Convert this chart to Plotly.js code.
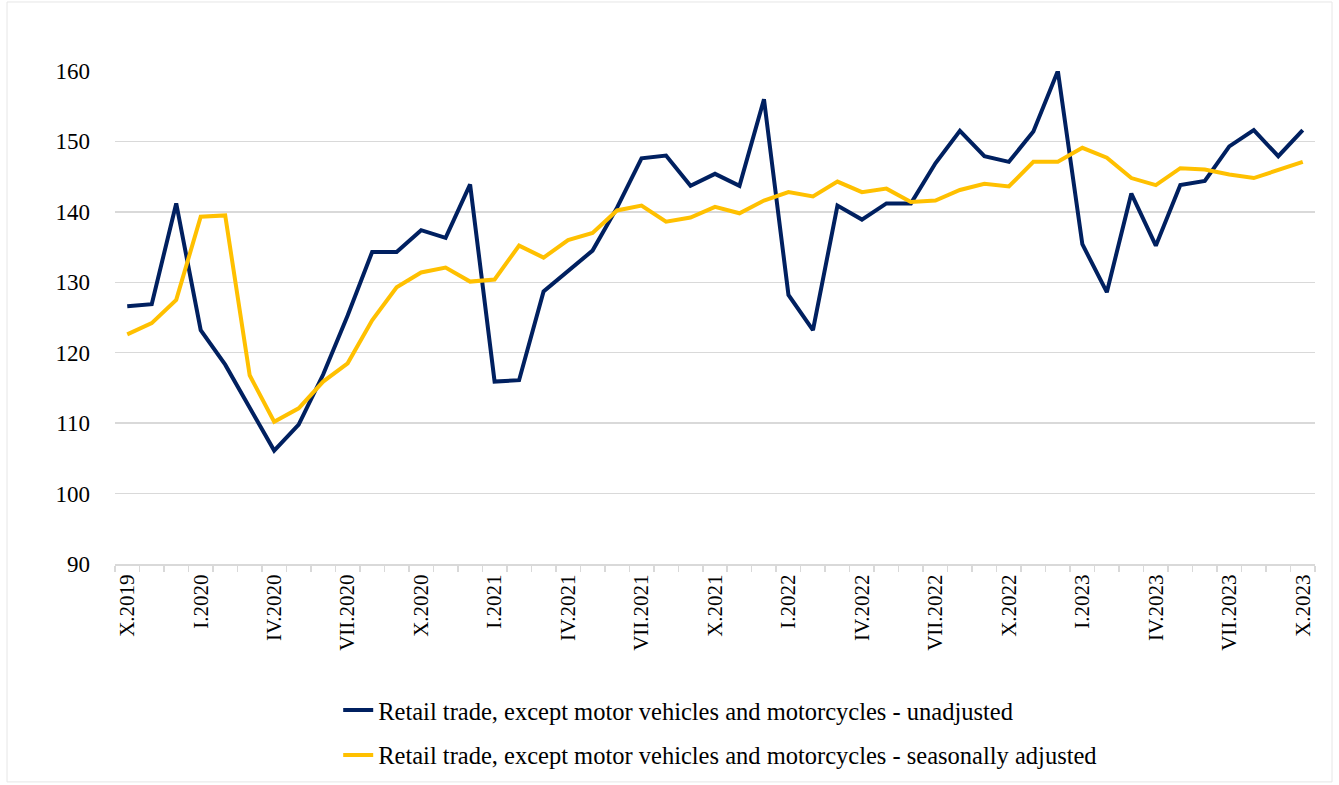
<!DOCTYPE html>
<html>
<head>
<meta charset="utf-8">
<script src="https://cdn.plot.ly/plotly-3.0.1.min.js"></script>
<style>html,body{margin:0;padding:0;background:#fff;}#chart{width:1339px;height:785px;}</style>
</head>
<body>
<div id="chart"></div>
<script>
const months = ["X.2019","XI.2019","XII.2019",
  "I.2020","II.2020","III.2020","IV.2020","V.2020","VI.2020","VII.2020","VIII.2020","IX.2020","X.2020","XI.2020","XII.2020",
  "I.2021","II.2021","III.2021","IV.2021","V.2021","VI.2021","VII.2021","VIII.2021","IX.2021","X.2021","XI.2021","XII.2021",
  "I.2022","II.2022","III.2022","IV.2022","V.2022","VI.2022","VII.2022","VIII.2022","IX.2022","X.2022","XI.2022","XII.2022",
  "I.2023","II.2023","III.2023","IV.2023","V.2023","VI.2023","VII.2023","VIII.2023","IX.2023","X.2023"];

const tickLabels = ["X.2019","I.2020","IV.2020","VII.2020","X.2020","I.2021","IV.2021","VII.2021","X.2021",
  "I.2022","IV.2022","VII.2022","X.2022","I.2023","IV.2023","VII.2023","X.2023"];

const unadjusted = [126.6,126.9,141.2,
  123.2,118.3,112.1,106.1,109.8,116.9,125.3,134.3,134.3,137.4,136.3,143.9,
  115.9,116.1,128.7,131.6,134.5,140.6,147.6,148.0,143.7,145.4,143.7,156.0,
  128.2,123.2,140.9,138.9,141.2,141.2,146.9,151.5,147.9,147.1,151.4,160.0,
  135.4,128.6,142.6,135.2,143.8,144.4,149.3,151.6,147.9,151.6];

const adjusted = [122.6,124.2,127.5,
  139.3,139.5,116.8,110.2,112.1,115.9,118.5,124.6,129.3,131.4,132.1,130.1,
  130.4,135.2,133.5,136.0,137.0,140.2,140.9,138.6,139.2,140.7,139.8,141.6,
  142.8,142.2,144.3,142.8,143.3,141.4,141.6,143.1,144.0,143.6,147.1,147.1,
  149.1,147.7,144.8,143.8,146.2,146.0,145.3,144.8,145.9,147.1];

const seriesNames = ["Retail trade, except motor vehicles and motorcycles - unadjusted",
  "Retail trade, except motor vehicles and motorcycles - seasonally adjusted"];

const fontFam = '"Liberation Serif", "Times New Roman", serif';

const traces = [
  {x: months, y: unadjusted, type: 'scatter', mode: 'lines', name: seriesNames[0], legendgroup: 'a',
   line: {color: '#002060', width: 4}},
  {x: months, y: adjusted, type: 'scatter', mode: 'lines', name: seriesNames[1], legendgroup: 'b',
   line: {color: '#FFC000', width: 4}}
];

const layout = {
  width: 1339, height: 785,
  margin: {l: 115, r: 24, t: 71, b: 221},
  paper_bgcolor: '#ffffff', plot_bgcolor: '#ffffff',
  font: {family: fontFam, color: '#000000', size: 22},
  showlegend: true,
  xaxis: {
    type: 'category',
    categoryorder: 'array', categoryarray: months,
    range: [-0.5, months.length - 0.5],
    tickmode: 'array',
    tickvals: months,
    ticktext: months.map(m => tickLabels.includes(m) ? m : ''),
    tickson: 'boundaries',
    ticks: 'outside', ticklen: 6, tickcolor: '#d9d9d9', tickwidth: 1.5,
    tickangle: -90,
    tickfont: {family: fontFam, size: 21, color: '#000'},
    showline: true, linecolor: '#d9d9d9', linewidth: 2,
    showgrid: false, zeroline: false, fixedrange: true, automargin: false
  },
  yaxis: {
    range: [90, 160], dtick: 10, tick0: 90,
    showgrid: true, gridcolor: '#d9d9d9', gridwidth: 1.5,
    zeroline: false, showline: false, ticks: '',
    ticklabelstandoff: 24,
    tickfont: {family: fontFam, size: 23, color: '#000'},
    fixedrange: true, automargin: false
  },
  legend: {
    xref: 'paper', yref: 'container',
    x: 0.186, xanchor: 'left', y: 0.124, yanchor: 'top',
    orientation: 'v', tracegroupgap: 10,
    font: {family: fontFam, size: 24.5, color: '#000'},
    bgcolor: 'rgba(0,0,0,0)', itemwidth: 30
  },
  shapes: [
    {type: 'rect', xref: 'paper', yref: 'paper', x0: -0.09, x1: 1.0142, y0: -0.442, y1: 1.14,
     line: {color: '#e6e6e6', width: 1}, fillcolor: 'rgba(0,0,0,0)', layer: 'below'}
  ]
};

Plotly.newPlot('chart', traces, layout, {displayModeBar: false, staticPlot: true});
</script>
</body>
</html>
